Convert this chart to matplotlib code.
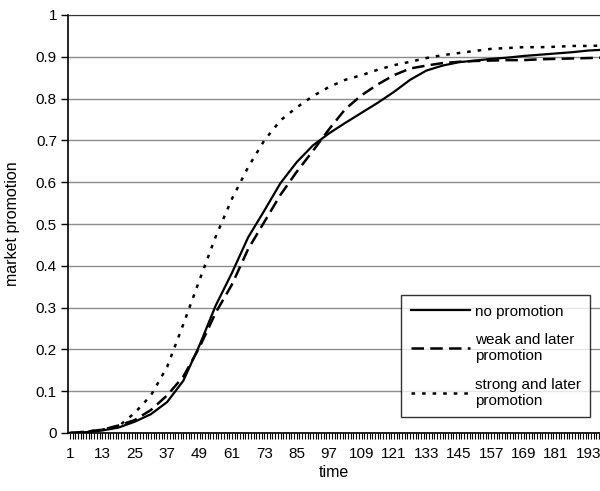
import matplotlib
matplotlib.use("Agg")
from matplotlib import pyplot as plt
from matplotlib.ticker import FixedLocator

plt.rcParams['font.family'] = ['Liberation Sans', 'DejaVu Sans']
plt.rcParams['lines.scale_dashes'] = False

# time steps
time = [1, 7, 13, 19, 25, 31, 37, 43, 49, 55, 61, 67, 73, 79, 85, 91, 97, 103,
        109, 115, 121, 127, 133, 139, 145, 151, 157, 163, 169, 175, 181, 187, 193, 199]

no_promotion = [0.0, 0.002, 0.006, 0.013, 0.027, 0.045, 0.074, 0.125, 0.21, 0.305,
                0.383, 0.468, 0.532, 0.598, 0.648, 0.688, 0.717, 0.742, 0.766, 0.79,
                0.816, 0.845, 0.867, 0.879, 0.887, 0.891, 0.895, 0.898, 0.902, 0.905,
                0.908, 0.911, 0.915, 0.917]

weak_later = [0.0, 0.003, 0.008, 0.018, 0.031, 0.055, 0.09, 0.135, 0.205, 0.288,
              0.355, 0.44, 0.505, 0.57, 0.625, 0.675, 0.727, 0.775, 0.808, 0.834,
              0.856, 0.872, 0.879, 0.885, 0.888, 0.89, 0.891, 0.892, 0.892, 0.894,
              0.895, 0.896, 0.897, 0.898]

strong_later = [0.0, 0.003, 0.008, 0.016, 0.048, 0.09, 0.158, 0.26, 0.366, 0.47,
                0.56, 0.636, 0.70, 0.748, 0.779, 0.806, 0.828, 0.845, 0.856, 0.869,
                0.88, 0.888, 0.897, 0.904, 0.909, 0.914, 0.919, 0.921, 0.923, 0.923,
                0.924, 0.926, 0.926, 0.927]

x_labels = list(range(1, 194, 12))
y_ticks = [i / 10 for i in range(11)]
y_labels = ["0", "0.1", "0.2", "0.3", "0.4", "0.5", "0.6", "0.7", "0.8", "0.9", "1"]

fig = plt.figure(figsize=(6, 4.91), dpi=100)
ax = fig.add_axes([68 / 600, 1 - 433 / 491, 1 - 68 / 600, (433 - 15) / 491])

ax.plot(time, no_promotion, color="black", lw=1.6, label="no promotion")
ax.plot(time, weak_later, color="black", lw=1.8, dashes=(9, 4.5),
        label="weak and later\npromotion")
ax.plot(time, strong_later, color="black", lw=1.8, dashes=(2.6, 5),
        label="strong and later\npromotion")

ax.set_xlim(0.3, 197.3)
ax.set_ylim(0, 1)
ax.xaxis.set_major_locator(FixedLocator(x_labels))
ax.set_xticklabels([str(v) for v in x_labels])
ax.xaxis.set_minor_locator(FixedLocator(list(range(1, 201))))
ax.set_yticks(y_ticks)
ax.set_yticklabels(y_labels)
ax.tick_params(axis="x", which="both", direction="out", length=4, width=0.8, pad=6,
               labelsize=11)
ax.tick_params(axis="y", direction="out", length=5, width=1, pad=3, labelsize=11)

ax.grid(axis="y", color="#8c8c8c", lw=1)
ax.set_axisbelow(True)
ax.spines["right"].set_visible(False)
ax.spines["left"].set_linewidth(1.2)
ax.spines["bottom"].set_linewidth(1.2)
ax.spines["top"].set_color("#333333")

ax.set_xlabel("time", fontsize=11.5, labelpad=3)
ax.set_ylabel("market promotion", fontsize=11.5, labelpad=11)

leg = ax.legend(loc="lower right", bbox_to_anchor=(0.981, 0.038), borderaxespad=0,
                fontsize=11, frameon=True, fancybox=False, handlelength=3.9,
                handletextpad=0.3, labelspacing=0.95, borderpad=0.6)
leg.get_frame().set_edgecolor("black")
leg.get_frame().set_linewidth(1)

fig.savefig("out.png", dpi=100)
